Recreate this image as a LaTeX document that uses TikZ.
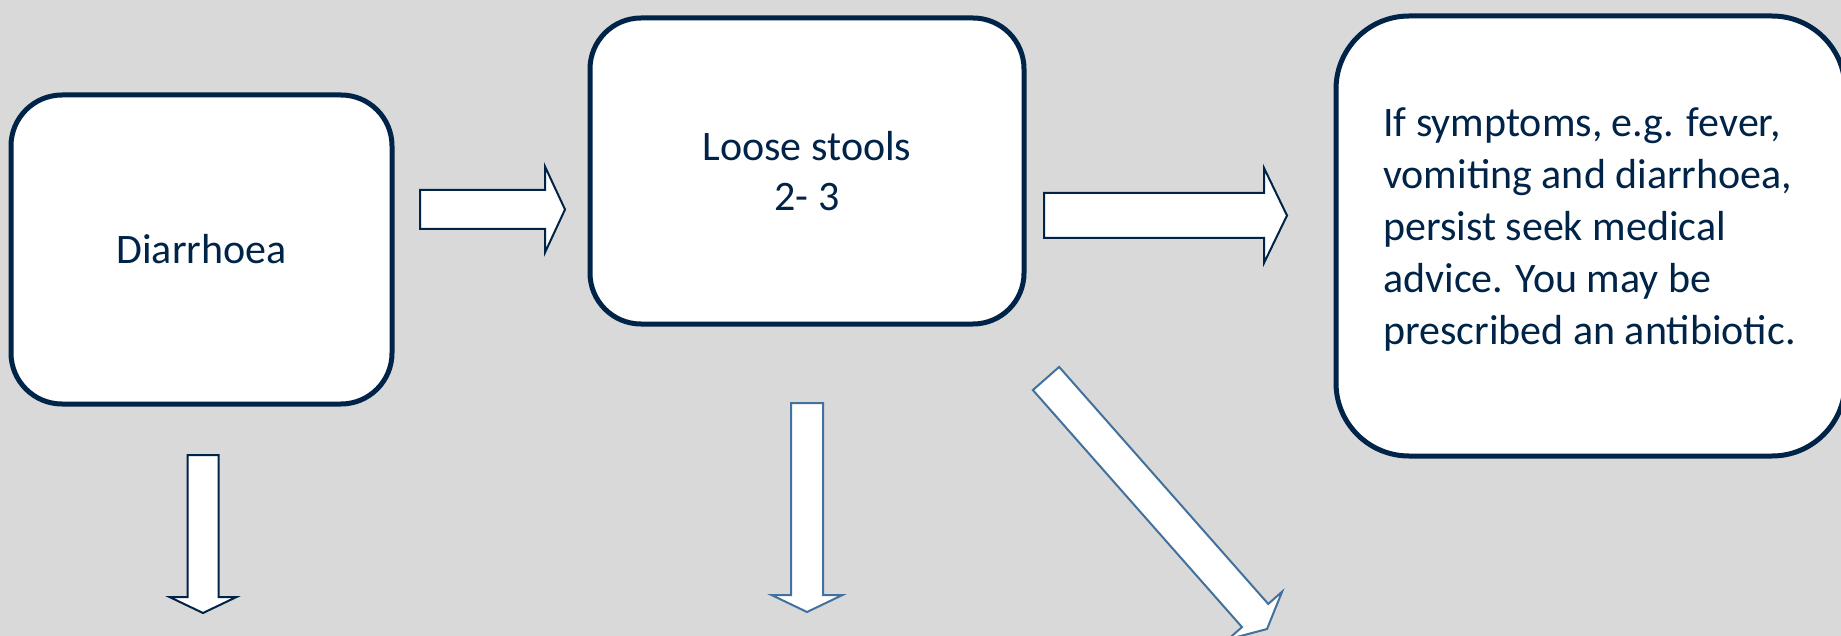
\documentclass[tikz,border=0pt]{standalone}
\usepackage{fontspec}
\setmainfont{Carlito}
\usetikzlibrary{calc}
\definecolor{navy}{RGB}{0,35,72}
\definecolor{steel}{RGB}{65,113,156}
\definecolor{bgcol}{RGB}{217,217,217}
\newcommand{\blockarrow}[6]{%
  \path let \p1=(#2), \p2=(#3),
    \n1={atan2(\y2-\y1,\x2-\x1)}, \n2={veclen(\x2-\x1,\y2-\y1)} in
    \pgfextra{\xdef\baang{\n1}\xdef\balen{\n2}\xdef\bax{\x1}\xdef\bay{\y1}};
  \pgfmathsetmacro\bal{\balen}%
  \pgfmathsetmacro\bahb{\balen-#6}%
  \pgfmathsetmacro\baa{\baang}%
  \begin{scope}[shift={(\bax,\bay)}, rotate=\baa]
    \draw[#1] (0pt,-#4pt) -- (\bahb pt,-#4pt) -- (\bahb pt,-#5pt) -- (\bal pt,0pt)
      -- (\bahb pt,#5pt) -- (\bahb pt,#4pt) -- (0pt,#4pt) -- cycle;
  \end{scope}}
\tikzset{
  box/.style={draw=navy, line width=5pt, fill=white, inner sep=0pt, text=navy,
    font=\fontsize{42pt}{50pt}\selectfont},
  boxtext/.style={inner sep=0pt, text=navy, font=\fontsize{42pt}{52pt}\selectfont},
  navyarrow/.style={draw=navy, line width=2pt, fill=white, line join=miter},
  steelarrow/.style={draw=steel, line width=2pt, fill=white, line join=miter}
}
\begin{document}
\begin{tikzpicture}[x=1pt,y=-1pt]
\useasboundingbox (0,0) rectangle (1841,636);
\clip (0,0) rectangle (1841,636);
\fill[bgcol] (0,0) rectangle (1841,636);

\node[box, minimum width=381pt, minimum height=309pt, rounded corners=51pt] (diar) at (201.5,249.5) {Diarrhoea};
\node[box, minimum width=434pt, minimum height=306pt, rounded corners=51pt, align=center] (loose) at (807,171) {Loose stools\\2- 3};
\node[box, minimum width=509pt, minimum height=440pt, rounded corners=73pt] (advice) at (1590.5,236) {};
\node[boxtext, align=left] (advicetext) at ($(advice.center)+(-1,-6.5)$)
  {If symptoms, e.g. fever,\\vomiting and diarrhoea,\\persist seek medical\\advice. You may be\\prescribed an antibiotic.};

\coordinate (a1s) at (420,209.5);  \coordinate (a1e) at (565,209.5);
\coordinate (a2s) at (1044,215.5); \coordinate (a2e) at (1287,215.5);
\coordinate (d1s) at (203,455);    \coordinate (d1e) at (203,613);
\coordinate (d2s) at (807,403);    \coordinate (d2e) at (807,612);
\coordinate (dgs) at (1046,378.5); \coordinate (dge) at (1267,629);

\blockarrow{navyarrow}{a1s}{a1e}{19.5}{43}{20}
\blockarrow{navyarrow}{a2s}{a2e}{22.5}{47.5}{23}
\blockarrow{navyarrow}{d1s}{d1e}{15.5}{33.5}{16}
\blockarrow{steelarrow}{d2s}{d2e}{16}{35.5}{17}
\blockarrow{steelarrow}{dgs}{dge}{17.5}{36}{18}
\end{tikzpicture}
\end{document}
